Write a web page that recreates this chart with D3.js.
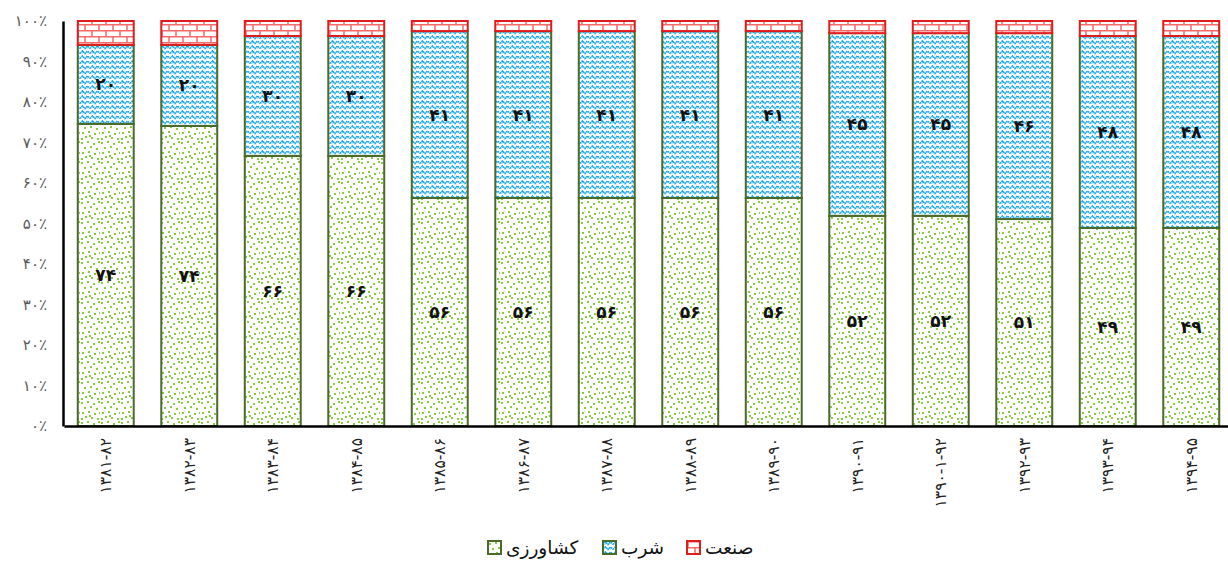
<!DOCTYPE html>
<html>
<head>
<meta charset="utf-8">
<script src="https://cdn.jsdelivr.net/npm/d3@7"></script>
<style>
  body { margin: 0; background: #fff; }
  text { font-family: "DejaVu Sans", sans-serif; }
</style>
</head>
<body>
<div id="chart"></div>
<script>
// periods (solar years)
const periods = ["۱۳۸۱-۸۲", "۱۳۸۲-۸۳", "۱۳۸۳-۸۴", "۱۳۸۴-۸۵", "۱۳۸۵-۸۶", "۱۳۸۶-۸۷", "۱۳۸۷-۸۸",
    "۱۳۸۸-۸۹", "۱۳۸۹-۹۰", "۱۳۹۰-۹۱", "۱۳۹۰-۱-۹۲", "۱۳۹۲-۹۳", "۱۳۹۳-۹۴", "۱۳۹۴-۹۵"];

// shares in percent
const agriculture = [74.6, 74.1, 66.7, 66.7, 56.3, 56.3, 56.3, 56.3, 56.3, 51.9, 51.9, 51.1, 48.9, 48.9];
const drinking    = [19.5, 20.0, 29.6, 29.6, 41.2, 41.2, 41.2, 41.2, 41.2, 45.1, 45.1, 45.9, 47.4, 47.4];
const industry    = [5.9, 5.9, 3.7, 3.7, 2.5, 2.5, 2.5, 2.5, 2.5, 3.0, 3.0, 3.0, 3.7, 3.7];

// printed labels on the bars
const agricultureLabels = [74, 74, 66, 66, 56, 56, 56, 56, 56, 52, 52, 51, 49, 49];
const drinkingLabels    = [20, 20, 30, 30, 41, 41, 41, 41, 41, 45, 45, 46, 48, 48];

const seriesNames = ["کشاورزی", "شرب", "صنعت"];
const yTicks = [0, 10, 20, 30, 40, 50, 60, 70, 80, 90, 100];

const width = 1228, height = 562;

const fa = n => String(n).replace(/[0-9]/g, c => "۰۱۲۳۴۵۶۷۸۹"[+c]);

const svg = d3.select("#chart").append("svg")
    .attr("width", width)
    .attr("height", height);

// patterns
const defs = svg.append("defs");

const dotPat = defs.append("pattern")
    .attr("id", "pat-agri")
    .attr("patternUnits", "userSpaceOnUse")
    .attr("width", 20).attr("height", 20);
dotPat.append("rect").attr("width", 20).attr("height", 20).attr("fill", "#fff");
[[1,2],[7,1],[13,3],[18,1],[4,7],[10,6],[16,8],[2,12],[8,11],[14,13],[19,12],[5,16],[11,17],[17,18],[1,18],[9,15]]
    .forEach(([x, y]) => dotPat.append("rect")
        .attr("x", x).attr("y", y).attr("width", 2).attr("height", 2)
        .attr("fill", "#86cc44"));

const wavePat = defs.append("pattern")
    .attr("id", "pat-drink")
    .attr("patternUnits", "userSpaceOnUse")
    .attr("width", 10).attr("height", 10);
wavePat.append("rect").attr("width", 10).attr("height", 10).attr("fill", "#fff");
wavePat.append("path")
    .attr("d", "M0,3.5 L2.5,1 L5,3.5 L7.5,1 L10,3.5 M0,8.5 L2.5,6 L5,8.5 L7.5,6 L10,8.5 M2.5,1 L2.5,3.5 M7.5,6 L7.5,8.5")
    .attr("fill", "none")
    .attr("stroke", "#18a6ea")
    .attr("stroke-width", 1.7)
    .attr("stroke-dasharray", "1.6 0.6");

const brickPat = defs.append("pattern")
    .attr("id", "pat-ind")
    .attr("patternUnits", "userSpaceOnUse")
    .attr("width", 14).attr("height", 12);
brickPat.append("rect").attr("width", 14).attr("height", 12).attr("fill", "#fff");
brickPat.append("path")
    .attr("d", "M0,0.75 H14 M0,6.75 H14 M1,0 V6 M8,6 V12")
    .attr("fill", "none")
    .attr("stroke", "#f26a6a")
    .attr("stroke-width", 1.5);

const fills = ["url(#pat-agri)", "url(#pat-drink)", "url(#pat-ind)"];
const strokes = ["#4a6a2a", "#4a6a2a", "#e01b1b"];

// scales
const x = d3.scaleBand()
    .domain(periods)
    .range([64, 1233])
    .paddingInner(0.33)
    .paddingOuter(0.165);

const y = d3.scaleLinear()
    .domain([0, 100])
    .range([426, 21]);

// stacked data
const rows = periods.map((p, i) => ({
    period: p,
    agri: agriculture[i],
    drink: drinking[i],
    ind: industry[i]
}));
const stack = d3.stack().keys(["agri", "drink", "ind"]);
const layers = stack(rows);

layers.forEach((layer, k) => {
    svg.append("g").selectAll("rect")
        .data(layer)
        .join("rect")
        .attr("x", d => x(d.data.period))
        .attr("y", d => y(d[1]))
        .attr("width", x.bandwidth())
        .attr("height", d => y(d[0]) - y(d[1]))
        .attr("fill", fills[k])
        .attr("stroke", strokes[k])
        .attr("stroke-width", 2);
});

// value labels
const labelSets = [agricultureLabels, drinkingLabels];
labelSets.forEach((labels, k) => {
    svg.append("g").selectAll("text")
        .data(layers[k])
        .join("text")
        .attr("x", d => x(d.data.period) + x.bandwidth() / 2)
        .attr("y", d => y((d[0] + d[1]) / 2))
        .attr("dy", "0.35em")
        .attr("text-anchor", "middle")
        .attr("font-size", 17)
        .attr("font-weight", "bold")
        .attr("fill", "#111")
        .text((d, i) => fa(labels[i]));
});

// y axis
const leftAxis = d3.axisLeft(y)
    .tickValues(yTicks)
    .tickSize(0)
    .tickPadding(16)
    .tickFormat(d => fa(d) + "٪");
const gy = svg.append("g")
    .attr("transform", "translate(63,0)")
    .call(leftAxis);
gy.select(".domain").attr("stroke", "#000").attr("stroke-width", 2.5);
gy.selectAll("text")
    .attr("font-size", 15)
    .attr("fill", "#595959")
    .style("font-family", "DejaVu Sans");

// x axis
const bottomAxis = d3.axisBottom(x).tickSize(0).tickFormat("");
const gx = svg.append("g")
    .attr("transform", "translate(0,426)")
    .call(bottomAxis);
gx.select(".domain").attr("stroke", "#000").attr("stroke-width", 2.5);

svg.append("g").selectAll("text")
    .data(periods)
    .join("text")
    .attr("transform", d => `translate(${x(d) + x.bandwidth() / 2},438) rotate(-90)`)
    .attr("text-anchor", "end")
    .attr("dy", "0.35em")
    .attr("font-size", 15.5)
    .attr("fill", "#222")
    .text(d => d);

// legend
const legendX = [488, 603, 687];
const legend = svg.append("g");
seriesNames.forEach((name, k) => {
    const g = legend.append("g").attr("transform", `translate(${legendX[k]},541)`);
    g.append("rect")
        .attr("width", 13).attr("height", 13)
        .attr("fill", fills[k])
        .attr("stroke", strokes[k])
        .attr("stroke-width", 2);
    g.append("text")
        .attr("x", 18)
        .attr("y", 7)
        .attr("dy", "0.35em")
        .attr("font-size", 18.5)
        .attr("fill", "#111")
        .attr("direction", "rtl")
        .attr("text-anchor", "end")
        .text(name);
});
</script>
</body>
</html>
